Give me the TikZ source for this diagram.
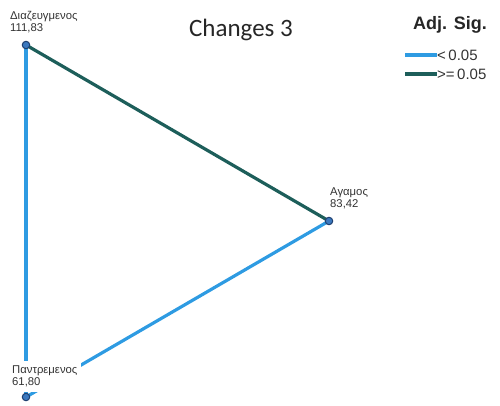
\documentclass[tikz,border=0pt]{standalone}
\usepackage{fontspec}
\setmainfont{Liberation Sans}
\newfontfamily\titlefont{Carlito}
\definecolor{sigblue}{HTML}{2E9BE2}
\definecolor{siggreen}{HTML}{1D5E5A}
\definecolor{dotfill}{HTML}{3B78BE}
\definecolor{dotedge}{HTML}{1E3F70}
\definecolor{labgray}{HTML}{333333}
\tikzset{
  edgeline/.style={line width=3.2pt},
  dotnode/.style={circle,fill=dotfill,draw=dotedge,line width=1pt,inner sep=0pt,minimum size=7.5pt},
  ptlabel/.style={fill=white,text=labgray,font=\fontsize{11.3}{12}\selectfont,align=left,anchor=south west,inner sep=2pt},
  legtext/.style={text=labgray,font=\fontsize{15}{16}\selectfont,anchor=west,inner sep=0pt}
}
\begin{document}
\begin{tikzpicture}[x=1pt,y=-1pt]
\useasboundingbox (0,0) rectangle (500,405);
\coordinate (D) at (26,45);
\coordinate (A) at (329,221);
\coordinate (P) at (26,397);
\draw[edgeline,sigblue] (D) -- (P);
\draw[edgeline,sigblue] (A) -- (P);
\draw[edgeline,siggreen] (D) -- (A);
\node[dotnode] (Dd) at (D) {};
\node[dotnode] (Ad) at (A) {};
\node[dotnode] (Pd) at (P) {};
\node[ptlabel] (Dl) at (8,35) {Διαζευγμενος\\111,83};
\node[ptlabel] (Al) at (328,211) {Αγαμος\\83,42};
\node[ptlabel,inner ysep=5pt,inner xsep=4pt] (Pl) at (8,392) {Παντρεμενος\\61,80};
\node[font=\titlefont\fontsize{25}{27}\selectfont,text=black!85] (title) at (241,30) {Changes 3};
\node[font=\bfseries\fontsize{18}{20}\selectfont,text=black!85] (legtitle) at (450,25) {Adj. Sig.};
\coordinate (b1) at (405,55);
\coordinate (b2) at (437,55);
\coordinate (g1) at (405,74);
\coordinate (g2) at (437,74);
\draw[edgeline,sigblue] (b1) -- (b2);
\draw[edgeline,siggreen] (g1) -- (g2);
\node[legtext] (lb) at (b2) {<\,0.05};
\node[legtext] (lg) at (g2) {>=\,0.05};
\end{tikzpicture}
\end{document}
